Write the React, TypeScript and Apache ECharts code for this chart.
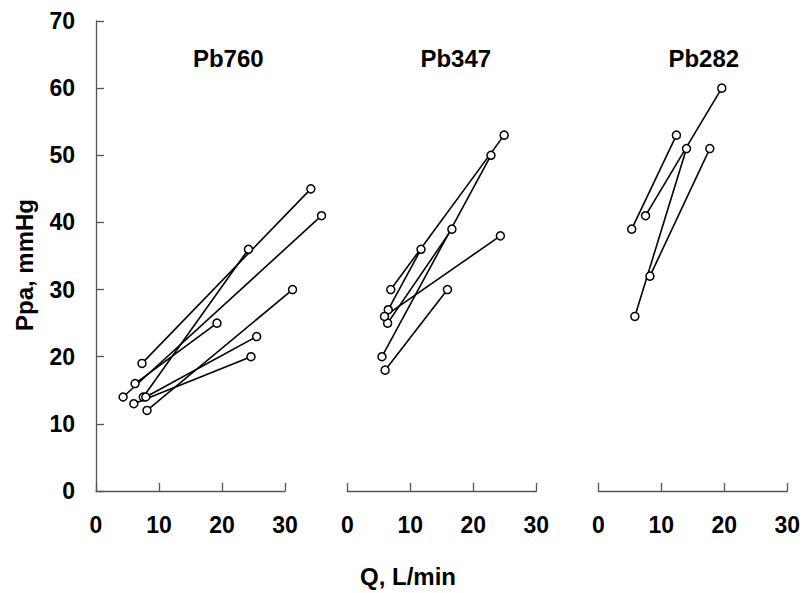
import React, { useEffect, useRef } from "react";
import * as echarts from "echarts";

const FONT = "'Liberation Sans', Arial, Helvetica, sans-serif";

const panelNames = ["Pb760", "Pb347", "Pb282"];
const xTicks = [0, 10, 20, 30];
const yTicks = [0, 10, 20, 30, 40, 50, 60, 70];
// data in the first panel extends past the drawn 0–30 axis
const dataXMax = [36, 30, 30];

// Each subject: [Q, Ppa] at low flow and at high flow
const pb760Low = [[7.3, 19], [4.3, 14], [6.2, 16], [7.5, 14], [7.9, 14], [6.0, 13], [8.1, 12]];
const pb760High = [[34.1, 45], [35.8, 41], [19.2, 25], [24.2, 36], [25.5, 23], [24.6, 20], [31.2, 30]];

const pb347Low = [[6.9, 30], [5.5, 20], [6.0, 18], [6.5, 27], [6.4, 25], [5.9, 26]];
const pb347High = [[24.9, 53], [22.8, 50], [15.9, 30], [11.7, 36], [16.6, 39], [24.3, 38]];

const pb282Low = [[5.3, 39], [7.5, 41], [8.2, 32], [5.8, 26]];
const pb282High = [[12.4, 53], [19.6, 60], [17.7, 51], [14.0, 51]];

const panels = [
  { low: pb760Low, high: pb760High },
  { low: pb347Low, high: pb347High },
  { low: pb282Low, high: pb282High },
];

const gridLefts = [96, 347.3, 598.3];
const titleCenters = [228.3, 455.8, 703.8];

export default function App() {
  const ref = useRef<HTMLDivElement>(null);
  useEffect(() => {
    if (!ref.current) return;
    const chart = echarts.init(ref.current, undefined, { renderer: "svg" });
    const axisColor = "#555";
    const axisW = 189;
    const xMax = xTicks[xTicks.length - 1];
    const yMin = yTicks[0];
    const yMax = yTicks[yTicks.length - 1];
    const grids: any[] = [];
    const xAxes: any[] = [];
    const yAxes: any[] = [];
    gridLefts.forEach((l, i) => {
      grids.push({ left: l, top: 21, width: axisW, height: 470, containLabel: false });
      xAxes.push({
        type: "value",
        gridIndex: i,
        min: xTicks[0],
        max: xMax,
        interval: 10,
        axisLine: { show: true, onZero: false, lineStyle: { color: axisColor, width: 1.3 } },
        axisTick: { show: true, inside: true, length: 8, lineStyle: { color: axisColor, width: 1.3 } },
        splitLine: { show: false },
        axisLabel: { show: true, margin: 22, fontSize: 23, fontWeight: "bold", color: "#000", fontFamily: FONT },
      });
      yAxes.push({
        type: "value",
        gridIndex: i,
        min: yMin,
        max: yMax,
        interval: 10,
        show: i === 0,
        axisLine: { show: true, onZero: false, lineStyle: { color: axisColor, width: 1.3 } },
        axisTick: { show: true, inside: true, length: 8, lineStyle: { color: axisColor, width: 1.3 } },
        splitLine: { show: false },
        axisLabel: { show: true, margin: 21, fontSize: 23, fontWeight: "bold", color: "#000", fontFamily: FONT },
      });
    });
    gridLefts.forEach((l, i) => {
      grids.push({ left: l, top: 21, width: (axisW * dataXMax[i]) / xMax, height: 470, containLabel: false });
      xAxes.push({ type: "value", gridIndex: 3 + i, min: 0, max: dataXMax[i], show: false, splitLine: { show: false } });
      yAxes.push({ type: "value", gridIndex: 3 + i, min: yMin, max: yMax, show: false, splitLine: { show: false } });
    });
    const series: any[] = [];
    panels.forEach((p, i) => {
      p.low.forEach((pt, k) => {
        series.push({
          type: "line",
          xAxisIndex: 3 + i,
          yAxisIndex: 3 + i,
          data: [pt, p.high[k]],
          symbol: "circle",
          symbolSize: 8,
          showSymbol: true,
          itemStyle: { color: "#fff", borderColor: "#000", borderWidth: 1.5 },
          lineStyle: { color: "#000", width: 1.6 },
          emphasis: { disabled: true },
          silent: true,
        });
      });
    });
    const graphic: any[] = panelNames.map((name, i) => ({
      type: "text",
      x: titleCenters[i],
      y: 58.5,
      style: { text: name, fontSize: 24, fontWeight: "bold", fontFamily: FONT, fill: "#000", align: "center", verticalAlign: "middle" },
    }));
    graphic.push({
      type: "text",
      x: 408,
      y: 576,
      style: { text: "Q, L/min", fontSize: 24, fontWeight: "bold", fontFamily: FONT, fill: "#000", align: "center", verticalAlign: "middle" },
    });
    graphic.push({
      type: "text",
      x: 24,
      y: 265,
      rotation: Math.PI / 2,
      style: { text: "Ppa, mmHg", fontSize: 24, fontWeight: "bold", fontFamily: FONT, fill: "#000", align: "center", verticalAlign: "middle" },
    });
    chart.setOption({
      animation: false,
      backgroundColor: "#fff",
      grid: grids,
      xAxis: xAxes,
      yAxis: yAxes,
      series,
      graphic,
    });
    return () => chart.dispose();
  }, []);
  return <div ref={ref} style={{ position: "fixed", left: 0, top: 0, width: 807, height: 593 }} />;
}
